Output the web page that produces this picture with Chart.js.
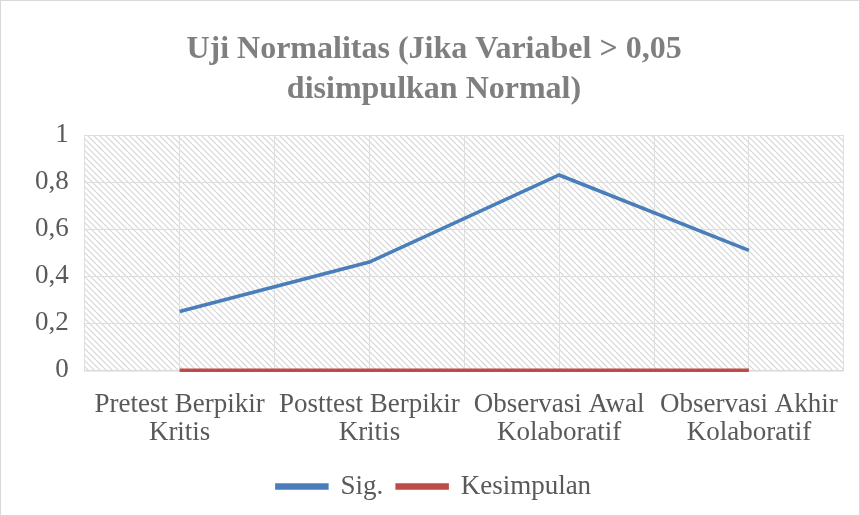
<!DOCTYPE html>
<html>
<head>
<meta charset="utf-8">
<script src="https://cdn.jsdelivr.net/npm/chart.js@4.4.1/dist/chart.umd.min.js"></script>
<style>
  html, body { margin: 0; padding: 0; background: #fff; }
  #wrap { width: 858px; height: 514px; border: 1px solid #d9d9d9; }
</style>
</head>
<body>
<div id="wrap"><canvas id="chart" width="858" height="514"></canvas></div>
<script>
// Data
const CATEGORIES = [
  ['Pretest Berpikir', 'Kritis'],
  ['Posttest Berpikir', 'Kritis'],
  ['Observasi Awal', 'Kolaboratif'],
  ['Observasi Akhir', 'Kolaboratif']
];
const SIG = [0.25, 0.46, 0.83, 0.51];
const KESIMPULAN = [0, 0, 0, 0];
const Y_TICKS = [0, 0.2, 0.4, 0.6, 0.8, 1];

const FONT = "'Liberation Serif', 'Times New Roman', serif";
const BLUE = '#4a7ebb';
const RED = '#be4b48';

// diagonal hatching for the plot area
function makeHatch() {
  const c = document.createElement('canvas');
  c.width = 6; c.height = 6;
  const g = c.getContext('2d');
  g.fillStyle = '#ffffff';
  g.fillRect(0, 0, 6, 6);
  g.strokeStyle = '#d6d6d6';
  g.lineWidth = 1.2;
  g.beginPath();
  g.moveTo(0, 0); g.lineTo(6, 6);
  g.moveTo(-3, 3); g.lineTo(3, 9);
  g.moveTo(3, -3); g.lineTo(9, 3);
  g.stroke();
  return g.createPattern(c, 'repeat');
}

const hatchPlugin = {
  id: 'hatch',
  beforeDraw(chart) {
    const a = chart.chartArea;
    const ctx = chart.ctx;
    ctx.save();
    ctx.fillStyle = makeHatch();
    ctx.fillRect(a.left, a.top, a.right - a.left, a.bottom - a.top);
    ctx.restore();
  }
};

const ctx = document.getElementById('chart').getContext('2d');
new Chart(ctx, {
  type: 'line',
  data: {
    labels: CATEGORIES,
    datasets: [
      { label: 'Sig.', data: SIG, borderColor: BLUE, backgroundColor: BLUE,
        borderWidth: 3.5, pointRadius: 0, tension: 0, clip: false },
      { label: 'Kesimpulan', data: KESIMPULAN, borderColor: RED, backgroundColor: RED,
        borderWidth: 3.5, pointRadius: 0, tension: 0, clip: false }
    ]
  },
  options: {
    responsive: false,
    animation: false,
    layout: { padding: { left: 18, right: 10, top: 10, bottom: 5 } },
    plugins: {
      title: {
        display: true,
        text: ['Uji Normalitas (Jika Variabel > 0,05', 'disimpulkan Normal)'],
        color: '#7f7f7f',
        font: { family: FONT, size: 32, weight: 'bold', lineHeight: 1.25 },
        padding: { top: 19, bottom: 25 }
      },
      legend: {
        position: 'bottom',
        labels: {
          color: '#595959',
          font: { family: FONT, size: 27 },
          boxWidth: 50,
          boxHeight: 3,
          padding: 14
        }
      },
      tooltip: { enabled: false }
    },
    scales: {
      x: {
        offset: true,
        grid: { color: '#dedede', offset: true, drawTicks: false },
        border: { color: '#d9d9d9', width: 1.5 },
        ticks: { color: '#595959', font: { family: FONT, size: 27, lineHeight: 1.05 }, padding: 20, maxRotation: 0 },
        // pull the legend a little closer to the category labels
        afterFit: scale => { scale.height -= 8; }
      },
      x2: {
        type: 'category',
        labels: CATEGORIES,
        offset: true,
        display: true,
        grid: { color: '#dedede', offset: false, drawTicks: false },
        border: { display: false },
        ticks: { display: false }
      },
      y: {
        min: 0,
        max: 1,
        afterBuildTicks: axis => { axis.ticks = Y_TICKS.map(v => ({ value: v })); },
        grid: { color: '#dedede', drawTicks: false },
        border: { display: false },
        ticks: {
          color: '#595959',
          font: { family: FONT, size: 27 },
          padding: 16,
          callback: v => String(v).replace('.', ',')
        }
      }
    }
  },
  plugins: [hatchPlugin]
});
</script>
</body>
</html>
